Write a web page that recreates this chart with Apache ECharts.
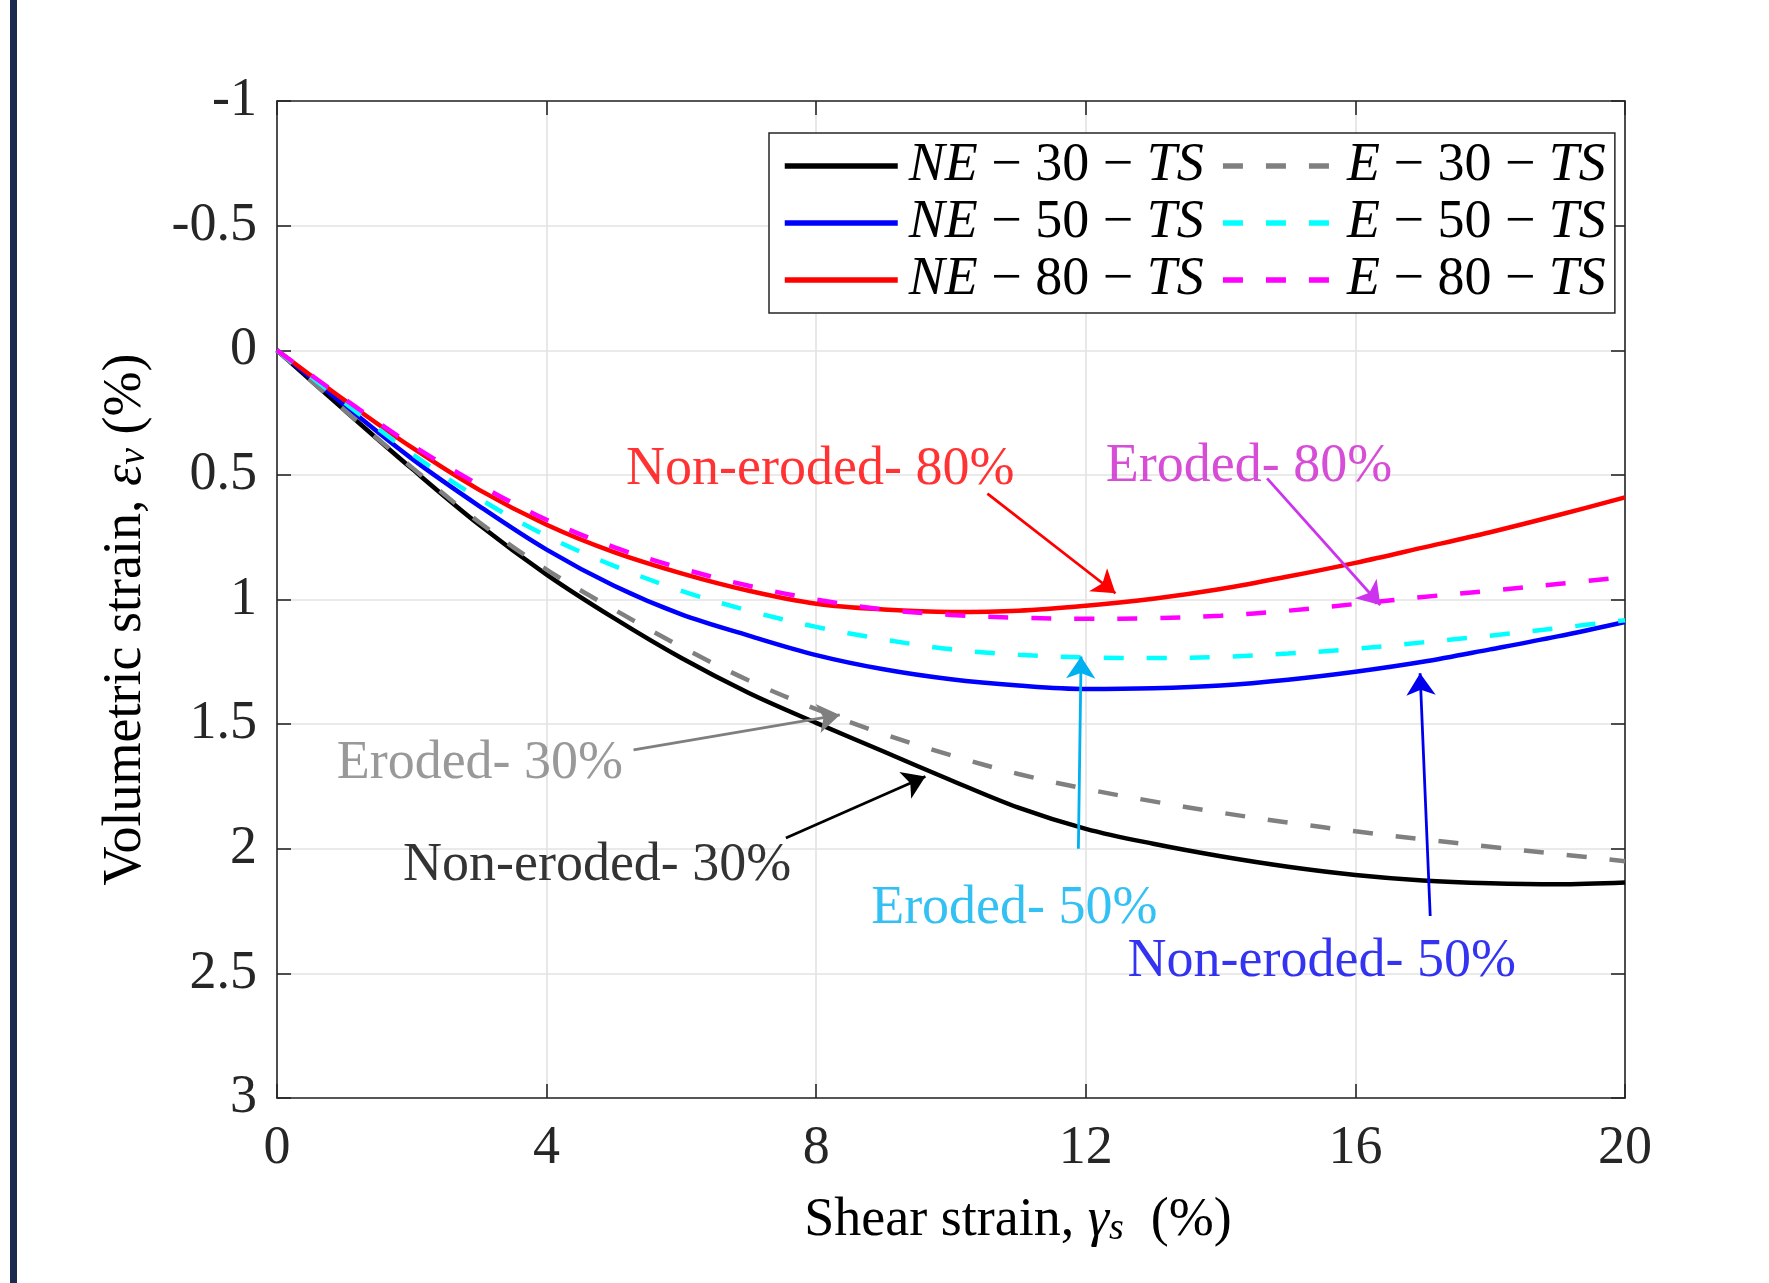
<!DOCTYPE html>
<html>
<head>
<meta charset="utf-8">
<script src="https://cdn.jsdelivr.net/npm/echarts@6/dist/echarts.min.js"></script>
<style>
html,body{margin:0;padding:0;background:#fff;}
#chart{width:1769px;height:1283px;}
</style>
</head>
<body>
<div id="chart"></div>
<script>
// ---------------- data ----------------
const xValues = [0,1,2,3,4,5,6,7,8,9,10,11,12,13,14,15,16,17,18,19,20];
const ne30 = [0,0.24,0.475,0.70,0.90,1.075,1.235,1.375,1.495,1.61,1.725,1.835,1.92,1.98,2.03,2.072,2.105,2.127,2.138,2.142,2.135];
const e30  = [0,0.24,0.47,0.69,0.88,1.04,1.19,1.325,1.44,1.54,1.625,1.70,1.76,1.81,1.855,1.895,1.93,1.962,1.992,2.021,2.05];
const ne50 = [0,0.22,0.435,0.625,0.80,0.945,1.06,1.145,1.223,1.28,1.32,1.345,1.359,1.356,1.345,1.322,1.29,1.25,1.20,1.148,1.09];
const e50  = [0,0.21,0.415,0.595,0.745,0.865,0.965,1.045,1.11,1.16,1.20,1.222,1.232,1.235,1.23,1.217,1.198,1.172,1.145,1.115,1.083];
const ne80 = [0,0.20,0.39,0.56,0.70,0.81,0.895,0.965,1.017,1.04,1.05,1.045,1.025,0.997,0.958,0.908,0.853,0.792,0.73,0.662,0.59];
const e80  = [0,0.195,0.38,0.54,0.68,0.79,0.875,0.945,1.00,1.04,1.062,1.073,1.077,1.075,1.065,1.045,1.018,0.99,0.965,0.938,0.91];
const seriesNames = ['NE − 30 − TS','E − 30 − TS','NE − 50 − TS','E − 50 − TS','NE − 80 − TS','E − 80 − TS'];
const xTicks = {min:0, max:20, interval:4};
const yTicks = {min:-1, max:3, interval:0.5};
// annotation texts and arrows (data coordinates)
const noteTexts = ['Non-eroded- 80%','Eroded- 80%','Eroded- 30%','Non-eroded- 30%','Eroded- 50%','Non-eroded- 50%'];
const noteAt = [[8.06,0.48],[14.42,0.467],[3.01,1.658],[4.75,2.07],[10.94,2.24],[15.50,2.455]];
const arrowFrom = [[10.54,0.575],[14.69,0.514],[5.29,1.603],[7.55,1.957],[11.89,2.0],[17.11,2.27]];
const arrowTo   = [[12.44,0.975],[16.37,1.022],[8.35,1.463],[9.62,1.71],[11.93,1.229],[16.96,1.296]];

// ---------------- styles ----------------
const FONT = 'Liberation Serif';
const lineColors = ['#000000','#808080','#0000ff','#00ffff','#ff0000','#ff00ff'];
const dashed = [false,true,false,true,false,true];
const noteColors = ['#ff0000','#cc22cc','#7f7f7f','#000000','#00b0f0','#0000ee'];
const arrowColors = ['#ff0000','#cc33ee','#7f7f7f','#000000','#00b0f0','#0000ee'];
const AX = '#262626';
const LW = 4.5;

const allData = [ne30,e30,ne50,e50,ne80,e80];
const lineSeries = allData.map((arr,i)=>({
  name: seriesNames[i],
  type: 'line',
  data: xValues.map((x,j)=>[x,arr[j]]),
  smooth: 0.35,
  symbol: 'none',
  showSymbol: false,
  z: 3 + (dashed[i]?1:0),
  itemStyle: {color: lineColors[i]},
  lineStyle: {color: lineColors[i], width: LW, type: dashed[i] ? [20,23] : 'solid'}
}));

const chart = echarts.init(document.getElementById('chart'), null, {renderer:'canvas'});
chart.setOption({
  animation: false,
  backgroundColor: '#fff',
  textStyle: {fontFamily: FONT},
  graphic: [{type:'rect', shape:{x:10,y:0,width:7,height:1283}, style:{fill:'#1c2a4f'}}],
  grid: {left:277, right:144, top:101, bottom:185, containLabel:false},
  legend: {
    data: seriesNames,
    left: 769, top: 133,
    width: 900,
    orient: 'horizontal',
    padding: [6,9,6,13],
    itemGap: 3,
    itemWidth: 113,
    itemHeight: 14,
    backgroundColor: '#fff',
    borderColor: AX,
    borderWidth: 1.5,
    borderRadius: 0,
    selectedMode: false,
    itemStyle: {opacity: 0},
    lineStyle: {width: 5.5},
    formatter: function(name){
      const p = name.split(' − ');
      const tail = p[0] === 'NE' ? '{sp|\u00a0}' : '';
      return '{a|' + p[0] + '}{m| − }{n|' + p[1] + '}{m| − }{z|' + p[2] + '}' + tail;
    },
    textStyle: {
      fontFamily: FONT, fontSize: 54, color: '#000',
      rich: {
        a: {fontFamily: FONT, fontStyle: 'italic', fontSize: 54, color:'#000', padding:[0,0,0,6]},
        z: {fontFamily: FONT, fontStyle: 'italic', fontSize: 54, color:'#000'},
        sp: {fontFamily: FONT, fontSize: 54, width: 22},
        n: {fontFamily: FONT, fontSize: 54, color:'#000'},
        m: {fontFamily: FONT, fontSize: 54, color:'#000'}
      }
    }
  },
  xAxis: [{
    type: 'value', min: xTicks.min, max: xTicks.max, interval: xTicks.interval,
    position: 'bottom',
    name: 'Shear strain, {g|γ}{s|s}  (%)',
    nameLocation: 'middle', nameGap: 96,
    nameTextStyle: {fontFamily: FONT, fontSize: 54, color:'#000', padding:[0,0,0,134],
      rich: {g:{fontFamily:FONT, fontStyle:'italic', fontSize:54, color:'#000'},
             s:{fontFamily:FONT, fontStyle:'italic', fontSize:38, color:'#000', verticalAlign:'bottom', padding:[16,0,0,0]}}},
    axisLine: {show:true, onZero:false, lineStyle:{color:AX, width:1.6}},
    axisTick: {show:true, inside:true, length:14, lineStyle:{color:AX, width:1.6}},
    axisLabel: {fontFamily: FONT, fontSize: 54, color: AX, margin: 24},
    splitLine: {show:true, lineStyle:{color:'#e3e3e3', width:1.6}}
  },{
    type: 'value', min: xTicks.min, max: xTicks.max, interval: xTicks.interval,
    position: 'top',
    axisLine: {show:true, onZero:false, lineStyle:{color:AX, width:1.6}},
    axisTick: {show:true, inside:true, length:14, lineStyle:{color:AX, width:1.6}},
    axisLabel: {show:false},
    splitLine: {show:false}
  }],
  yAxis: [{
    type: 'value', min: yTicks.min, max: yTicks.max, interval: yTicks.interval,
    inverse: true, position: 'left',
    name: 'Volumetric strain, {e|ε}{v|v} (%)',
    nameLocation: 'middle', nameGap: 124,
    nameTextStyle: {fontFamily: FONT, fontSize: 54, color:'#000', padding:[0,40,0,0],
      rich: {e:{fontFamily:FONT, fontStyle:'italic', fontSize:54, color:'#000'},
             v:{fontFamily:FONT, fontStyle:'italic', fontSize:38, color:'#000', verticalAlign:'bottom', padding:[16,0,0,0]}}},
    axisLine: {show:true, onZero:false, lineStyle:{color:AX, width:1.6}},
    axisTick: {show:true, inside:true, length:14, lineStyle:{color:AX, width:1.6}},
    axisLabel: {fontFamily: FONT, fontSize: 54, color: AX, margin: 20},
    splitLine: {show:true, lineStyle:{color:'#e3e3e3', width:1.6}}
  },{
    type: 'value', min: yTicks.min, max: yTicks.max, interval: yTicks.interval,
    inverse: true, position: 'right',
    axisLine: {show:true, onZero:false, lineStyle:{color:AX, width:1.6}},
    axisTick: {show:true, inside:true, length:14, lineStyle:{color:AX, width:1.6}},
    axisLabel: {show:false},
    splitLine: {show:false}
  }],
  series: lineSeries.concat([
    {
      name: 'arrows', type: 'lines', coordinateSystem: 'cartesian2d',
      xAxisIndex: 0, yAxisIndex: 0, silent: true, z: 6,
      symbol: ['none','arrow'], symbolSize: 22,
      data: arrowFrom.map((f,i)=>({coords:[f, arrowTo[i]], lineStyle:{color:arrowColors[i], width:2.8, opacity:1}})),
      lineStyle: {width: 2.8, opacity: 1, curveness: 0}
    },
    {
      name: 'notes', type: 'scatter', xAxisIndex: 0, yAxisIndex: 0, silent: true, z: 7,
      symbolSize: 0,
      data: noteAt.map((p,i)=>({value:p, name:noteTexts[i], label:{color:noteColors[i]}})),
      label: {show:true, position:'inside', formatter:'{b}', fontFamily: FONT, fontSize: 54}
    }
  ])
});
</script>
</body>
</html>
